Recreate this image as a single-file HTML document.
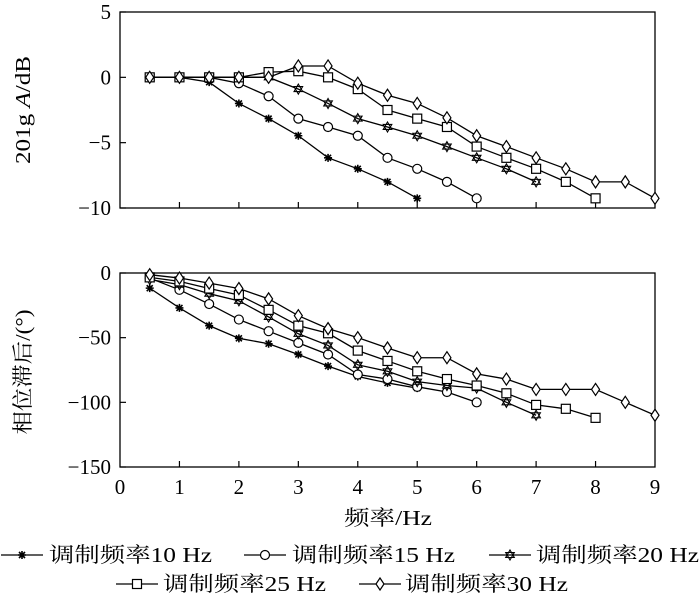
<!DOCTYPE html>
<html><head><meta charset="utf-8"><style>
body{margin:0;background:#fff;}
svg text{font-family:"Liberation Serif","Noto Serif CJK SC",serif;fill:#000;}
</style></head><body>
<svg id="c" width="700" height="603" xmlns="http://www.w3.org/2000/svg"></svg>
<script>
const xs10=[0.5,1,1.5,2,2.5,3,3.5,4,4.5,5];
const xs15=[0.5,1,1.5,2,2.5,3,3.5,4,4.5,5,5.5,6];
const xs20=[0.5,1,1.5,2,2.5,3,3.5,4,4.5,5,5.5,6,6.5,7];
const xs25=[0.5,1,1.5,2,2.5,3,3.5,4,4.5,5,5.5,6,6.5,7,7.5,8];
const xs30=[0.5,1,1.5,2,2.5,3,3.5,4,4.5,5,5.5,6,6.5,7,7.5,8,8.5,9];
const amp10=[0,0,-0.37,-2,-3.16,-4.47,-6.16,-7,-8,-9.26];
const amp15=[0,0,0,-0.45,-1.45,-3.16,-3.8,-4.47,-6.16,-7,-8,-9.26];
const amp20=[0,0,0,0,0,-0.9,-2,-3.16,-3.8,-4.47,-5.3,-6.16,-7,-8];
const amp25=[0,0,0,0,0.4,0.47,0,-0.9,-2.5,-3.16,-3.8,-5.3,-6.16,-7,-8,-9.26];
const amp30=[0,0,0,0,0,0.87,0.87,-0.45,-1.37,-2,-3.1,-4.47,-5.3,-6.16,-7,-8,-8,-9.26];
const ph10=[-11.7,-27,-40.7,-50.5,-54.7,-63,-72,-80,-85,-89];
const ph15=[-3.9,-13,-24,-36,-45,-54,-63,-78.5,-82,-88,-92,-100];
const ph20=[-5,-9,-16,-21.5,-34,-47,-56,-71,-76,-84,-87,-89,-100,-110];
const ph25=[-3.4,-6.5,-12,-17,-28.5,-40.7,-46.6,-60,-68,-76,-82,-87,-93,-102,-105,-112];
const ph30=[-1.3,-3.9,-7.8,-12,-20,-33,-43,-50,-58,-65.5,-65.5,-78,-82,-90,-90,-90,-100,-110];
const xTicks=[0,1,2,3,4,5,6,7,8,9];
const ampTicks=[5,0,-5,-10];
const phTicks=[0,-50,-100,-150];
const labels=["调制频率10 Hz","调制频率15 Hz","调制频率20 Hz","调制频率25 Hz","调制频率30 Hz"];

const svg=document.getElementById('c');
const NS="http://www.w3.org/2000/svg";
function mk(t,a,p){const e=document.createElementNS(NS,t);for(const k in a)e.setAttribute(k,a[k]);(p||svg).appendChild(e);return e;}
const X=v=>120+v*(535/9);
const YA=v=>12+(5-v)*(196/15);
const YP=v=>273-v*(194/150);

function marker(type,x,y,g){
  let e;
  if(type==='ast'){
    e=mk('path',{d:`M${x-4},${y}H${x+4}M${x},${y-4}V${y+4}M${x-3},${y-3}L${x+3},${y+3}M${x-3},${y+3}L${x+3},${y-3}`,stroke:'#000','stroke-width':1.6,fill:'none'},g);
  }else if(type==='circ'){
    e=mk('circle',{cx:x,cy:y,r:4.5,fill:'#fff',stroke:'#000','stroke-width':1.2},g);
  }else if(type==='star'){
    e=mk('path',{d:`M${x},${y-5}L${x+4.3},${y+2.5}H${x-4.3}ZM${x},${y+5}L${x+4.3},${y-2.5}H${x-4.3}Z`,fill:'#fff',stroke:'#000','stroke-width':1.1},g);
  }else if(type==='sq'){
    e=mk('rect',{x:x-4.5,y:y-4.5,width:9,height:9,fill:'#fff',stroke:'#000','stroke-width':1.2},g);
  }else{
    e=mk('path',{d:`M${x},${y-6}L${x+4},${y}L${x},${y+6}L${x-4},${y}Z`,fill:'#fff',stroke:'#000','stroke-width':1.2},g);
  }
  
  
}

function panel(name,Y,ticks,top,bot,showXLabels){
  const g=mk('g',{});
  
  
  const f=mk('rect',{x:120,y:top,width:535,height:bot-top,fill:'none',stroke:'#000','stroke-width':1.3},g);
  
  
  xTicks.forEach(t=>{
    if(t>0&&t<9) mk('line',{x1:X(t),x2:X(t),y1:bot,y2:bot-6,stroke:'#000','stroke-width':1.2},g);
    if(showXLabels){
      const tx=mk('text',{x:X(t),y:bot+27,'font-size':21,'text-anchor':'middle'},g);
      tx.textContent=t;
      
      
    }
  });
  ticks.forEach(t=>{
    const y=Y(t);
    mk('line',{x1:120,x2:126,y1:y,y2:y,stroke:'#000','stroke-width':1.2},g);
    const tx=mk('text',{x:111,y:y+7,'font-size':21,'text-anchor':'end'},g);
    tx.textContent=String(t).replace('-','−');
    
    
  });
  return g;
}
const gA=panel('amplitude-panel',YA,ampTicks,12,208,false);
const gP=panel('phase-panel',YP,phTicks,273,467,true);

const types=['ast','circ','star','sq','dia'];
const xsAll=[xs10,xs15,xs20,xs25,xs30];
const ampAll=[amp10,amp15,amp20,amp25,amp30];
const phAll=[ph10,ph15,ph20,ph25,ph30];
function series(g,xsA,ys,Y,type,name){
  const pts=xsA.map((x,i)=>X(x)+','+Y(ys[i])).join(' ');
  const l=mk('polyline',{points:pts,fill:'none',stroke:'#000','stroke-width':1.3},g);
  
  
  xsA.forEach((x,i)=>marker(type,X(x),Y(ys[i]),g));
}
for(let k=0;k<5;k++){
  series(gA,xsAll[k],ampAll[k],YA,types[k],'amp-line-'+k);
  series(gP,xsAll[k],phAll[k],YP,types[k],'phase-line-'+k);
}

function txt(s,a,name){const t=mk('text',a);t.textContent=s;return t;}
txt('频率/Hz',{x:388,y:525,'font-size':21,'text-anchor':'middle',textLength:88,lengthAdjust:'spacingAndGlyphs'},'x-axis-title');
const ya=txt('',{transform:'translate(30,110) rotate(-90)','font-size':21,'text-anchor':'middle',textLength:108,lengthAdjust:'spacingAndGlyphs'},'amplitude-y-axis-title');
ya.innerHTML='201g <tspan font-style="italic">A</tspan>/dB';
txt('相位滞后/(°)',{transform:'translate(30,372) rotate(-90)','font-size':21,'text-anchor':'middle',textLength:125,lengthAdjust:'spacingAndGlyphs'},'phase-y-axis-title');

const leg=[[0,555,49],[243,555,292],[488,555,536],[115,584,163],[358,584,405]];
leg.forEach((p,k)=>{
  const g=mk('g',{});
  
  
  mk('line',{x1:p[0]+1,x2:p[0]+43,y1:p[1],y2:p[1],stroke:'#000','stroke-width':1.3},g);
  marker(types[k],p[0]+22,p[1],g);
  const t=mk('text',{x:p[2],y:p[1]+7,'font-size':21,textLength:163,lengthAdjust:'spacingAndGlyphs'},g);
  t.textContent=labels[k];
  
  
});
</script>
</body></html>
